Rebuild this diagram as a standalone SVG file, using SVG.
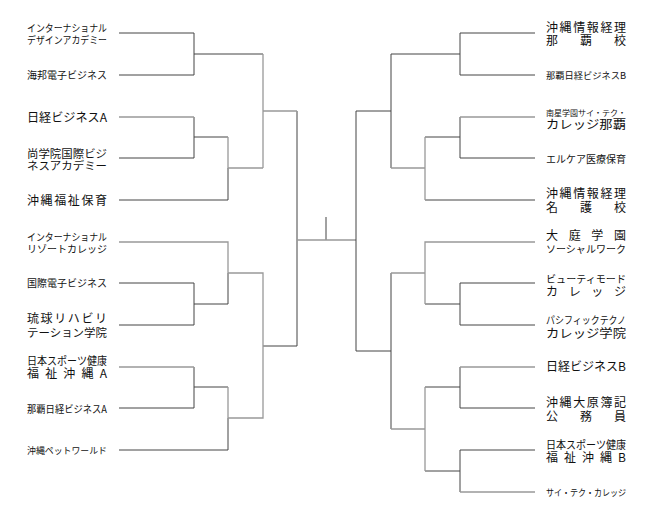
<svg xmlns="http://www.w3.org/2000/svg" width="654" height="526" viewBox="0 0 654 526">
<style>
text{font-family:"Noto Sans CJK JP","Liberation Sans",sans-serif;fill:#111}
.l{text-anchor:end}
.d{stroke:#444;stroke-width:1;fill:none}
.g{stroke:#999;stroke-width:1.3;fill:none}
</style>
<rect width="654" height="526" fill="#fff"/>
<g id="connectors">
<path class="d" d="M119 33H194V75H119M194 54H263M194 137H228M119 158H194V117M119 200H228V168M297 111V240M194 304H228V273M119 283H194V325H119M194 387H228M119 408H194V367M119 450H228V418M263 346H297V240M326 217V240"/>
<path class="g" d="M119 117H194M228 137V168H263M263 54V168M263 111H297M119 242H228V273M228 273H263V418H228M228 387V418M119 367H194M297 240H356"/>
<path class="d" d="M535 33H460V75H535M460 54H391V168M391 111H356V351M460 137H425M535 158H460V117M535 200H425M460 304H425M535 283H460V325H535M391 273V429M391 351H356M535 408H460V367M460 387H425M535 450H460V492M460 471H425"/>
<path class="g" d="M535 117H460M425 137V200M391 168H425M535 242H425V304M391 273H425M535 367H460M425 387V471M391 429H425M535 492H460"/>
</g>
<g id="left" class="l">
<g id="L1"><text x="107" y="32" font-size="10" textLength="80" lengthAdjust="spacingAndGlyphs">インターナショナル</text><text x="107" y="44" font-size="10" textLength="80" lengthAdjust="spacingAndGlyphs">デザインアカデミー</text></g>
<g id="L2"><text x="107" y="79" font-size="10" textLength="80" lengthAdjust="spacingAndGlyphs">海邦電子ビジネス</text></g>
<g id="L3"><text x="107" y="122" font-size="12" textLength="80" lengthAdjust="spacingAndGlyphs">日経ビジネスA</text></g>
<g id="L4"><text x="107" y="158" font-size="11" textLength="80" lengthAdjust="spacingAndGlyphs">尚学院国際ビジ</text><text x="107" y="170" font-size="11" textLength="80" lengthAdjust="spacingAndGlyphs">ネスアカデミー</text></g>
<g id="L5"><text x="107" y="205" font-size="12" textLength="80" lengthAdjust="spacing">沖縄福祉保育</text></g>
<g id="L6"><text x="107" y="241" font-size="10" textLength="80" lengthAdjust="spacingAndGlyphs">インターナショナル</text><text x="107" y="253" font-size="10" textLength="80" lengthAdjust="spacingAndGlyphs">リゾートカレッジ</text></g>
<g id="L7"><text x="107" y="287" font-size="10" textLength="80" lengthAdjust="spacingAndGlyphs">国際電子ビジネス</text></g>
<g id="L8"><text x="107" y="323" font-size="12" textLength="80" lengthAdjust="spacing">琉球リハビリ</text><text x="107" y="337" font-size="11" textLength="80" lengthAdjust="spacingAndGlyphs">テーション学院</text></g>
<g id="L9"><text x="107" y="365" font-size="11" textLength="80" lengthAdjust="spacingAndGlyphs">日本スポーツ健康</text><text x="107" y="378" font-size="12" textLength="80" lengthAdjust="spacing">福祉沖縄A</text></g>
<g id="L10"><text x="107" y="413" font-size="10" textLength="80" lengthAdjust="spacingAndGlyphs">那覇日経ビジネスA</text></g>
<g id="L11"><text x="107" y="454" font-size="9" textLength="80" lengthAdjust="spacingAndGlyphs">沖縄ペットワールド</text></g>
</g>
<g id="right">
<g id="R1"><text x="546" y="32" font-size="12" textLength="80" lengthAdjust="spacing">沖縄情報経理</text><text x="546" y="45" font-size="12" textLength="80" lengthAdjust="spacing">那覇校</text></g>
<g id="R2"><text x="546" y="79" font-size="9" textLength="80" lengthAdjust="spacingAndGlyphs">那覇日経ビジネスB</text></g>
<g id="R3"><text x="546" y="116" font-size="8" textLength="80" lengthAdjust="spacingAndGlyphs">南星学園サイ・テク・</text><text x="546" y="129" font-size="12" textLength="80" lengthAdjust="spacingAndGlyphs">カレッジ那覇</text></g>
<g id="R4"><text x="546" y="163" font-size="10" textLength="80" lengthAdjust="spacingAndGlyphs">エルケア医療保育</text></g>
<g id="R5"><text x="546" y="198" font-size="12" textLength="80" lengthAdjust="spacing">沖縄情報経理</text><text x="546" y="212" font-size="12" textLength="80" lengthAdjust="spacing">名護校</text></g>
<g id="R6"><text x="546" y="240" font-size="12" textLength="80" lengthAdjust="spacing">大庭学園</text><text x="546" y="253" font-size="10" textLength="80" lengthAdjust="spacingAndGlyphs">ソーシャルワーク</text></g>
<g id="R7"><text x="546" y="283" font-size="10" textLength="80" lengthAdjust="spacingAndGlyphs">ビューティモード</text><text x="546" y="296" font-size="12" textLength="80" lengthAdjust="spacing">カレッジ</text></g>
<g id="R8"><text x="546" y="324" font-size="10" textLength="80" lengthAdjust="spacingAndGlyphs">パシフィックテクノ</text><text x="546" y="338" font-size="12" textLength="80" lengthAdjust="spacingAndGlyphs">カレッジ学院</text></g>
<g id="R9"><text x="546" y="371" font-size="12" textLength="80" lengthAdjust="spacingAndGlyphs">日経ビジネスB</text></g>
<g id="R10"><text x="546" y="407" font-size="12" textLength="80" lengthAdjust="spacing">沖縄大原簿記</text><text x="546" y="421" font-size="12" textLength="80" lengthAdjust="spacing">公務員</text></g>
<g id="R11"><text x="546" y="449" font-size="11" textLength="80" lengthAdjust="spacingAndGlyphs">日本スポーツ健康</text><text x="546" y="462" font-size="12" textLength="80" lengthAdjust="spacing">福祉沖縄B</text></g>
<g id="R12"><text x="546" y="496" font-size="9" textLength="80" lengthAdjust="spacingAndGlyphs">サイ・テク・カレッジ</text></g>
</g>
</svg>
